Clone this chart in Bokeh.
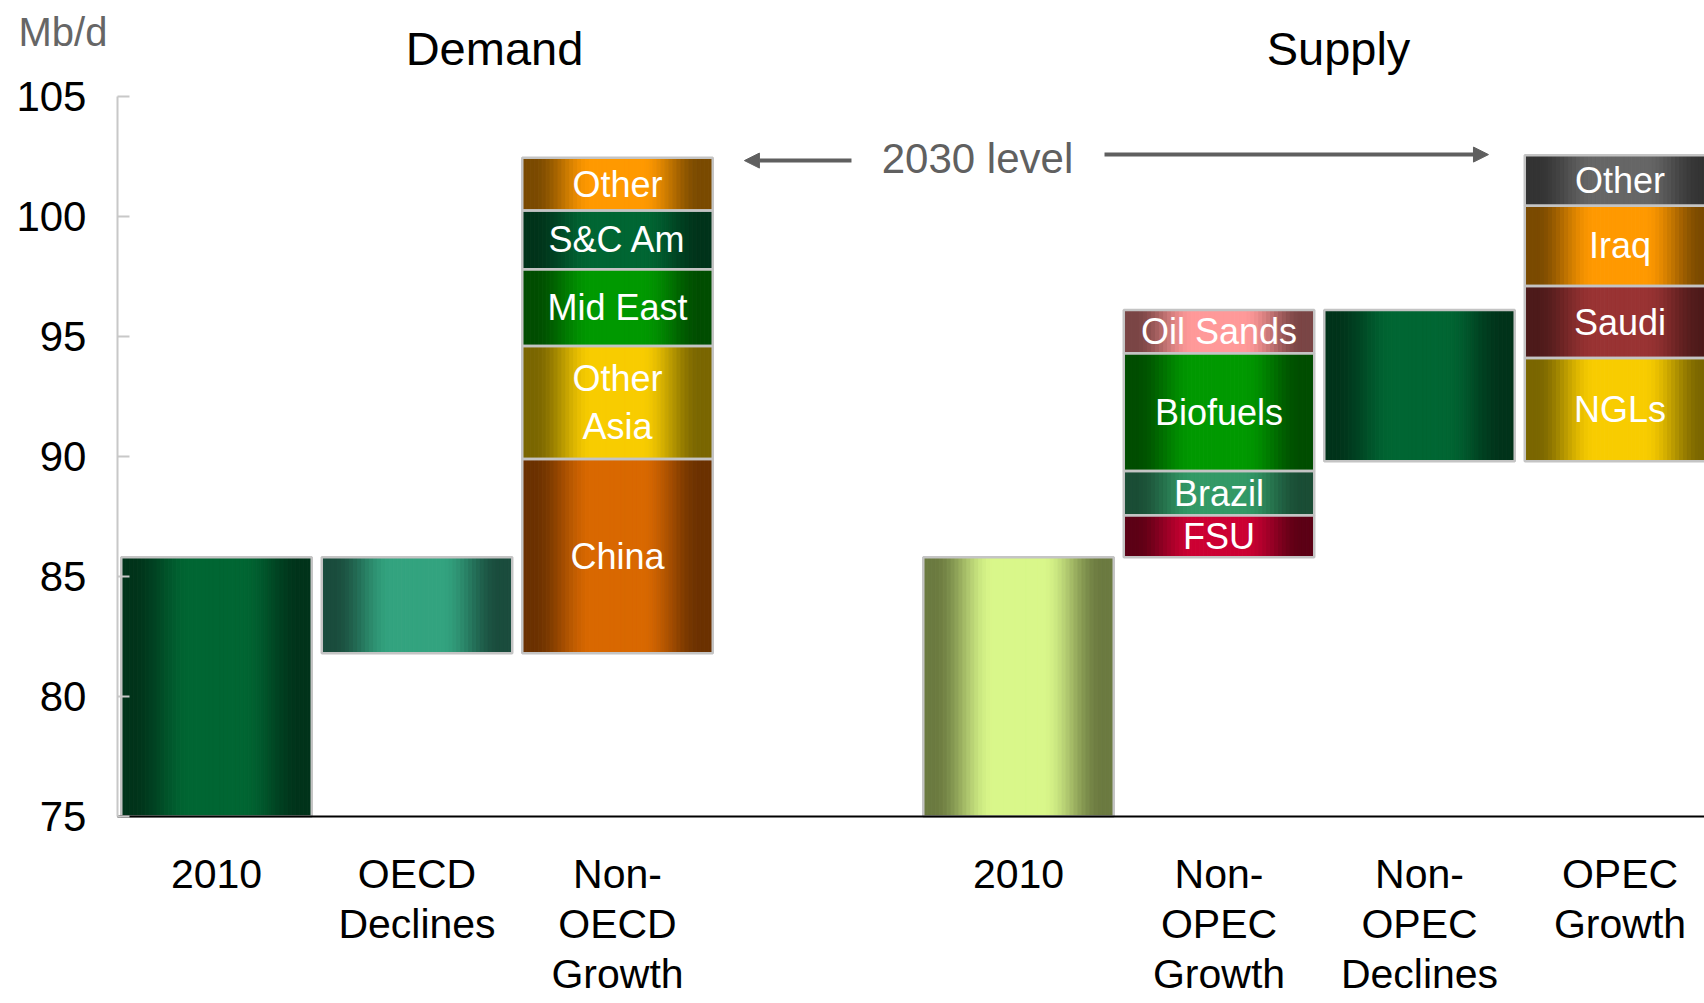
import numpy as np
from bokeh.plotting import figure
from bokeh.models import ColumnDataSource, FixedTicker, Label, Arrow, NormalHead, Range1d
from bokeh.embed import file_html
from bokeh.resources import INLINE
from bokeh.core.properties import value

# ---------------- data ----------------
positions = [0, 1, 2, 4, 5, 6, 7]
category_labels = ["2010", "OECD\nDeclines", "Non-\nOECD\nGrowth",
                   "2010", "Non-\nOPEC\nGrowth", "Non-\nOPEC\nDeclines", "OPEC\nGrowth"]
y_ticks = [75, 80, 85, 90, 95, 100, 105]

demand_2010 = 85.8
oecd_declines = -4.0
non_oecd_labels = ["China", "Other\nAsia", "Mid East", "S&C Am", "Other"]
non_oecd_values = [8.1, 4.7, 3.2, 2.45, 2.2]

supply_2010 = 85.8
non_opec_growth_labels = ["FSU", "Brazil", "Biofuels", "Oil Sands"]
non_opec_growth_values = [1.75, 1.85, 4.9, 1.8]
non_opec_declines = -6.3
opec_growth_labels = ["NGLs", "Saudi", "Iraq", "Other"]
opec_growth_values = [4.3, 3.0, 3.35, 2.1]

# ---------------- styles (edge colour, centre colour) ----------------
c_demand_2010 = ("#00331a", "#006633")
c_oecd = ("#1a4c3d", "#33a37f")
c_non_oecd = [("#6b3100", "#d96800"), ("#7a6600", "#f8cc00"), ("#004d00", "#009900"),
              ("#00331a", "#006633"), ("#7a4a00", "#ff9900")]
c_supply_2010 = ("#6b7a40", "#d9f78a")
c_non_opec_growth = [("#5c0015", "#cc0033"), ("#1a4d35", "#339966"),
                     ("#004d00", "#009900"), ("#7a4545", "#ff9999")]
c_non_opec_decl = ("#00331a", "#006633")
c_opec = [("#7a6600", "#f8cc00"), ("#4d1a1a", "#993333"), ("#7a4a00", "#ff9900"),
          ("#333333", "#666666")]

FONT = "Liberation Sans"
BAR_W = 0.95
AXIS_X = -0.494          # where the value axis sits (in category units)
AXIS_MIN = y_ticks[0]
AXIS_MAX = y_ticks[-1]

# ---------------- build waterfall segments ----------------
segments = []  # (x, bottom, top, label, colours)
segments.append((positions[0], 0, demand_2010, "", c_demand_2010))
segments.append((positions[1], demand_2010 + oecd_declines, demand_2010, "", c_oecd))
base = demand_2010 + oecd_declines
for lab, v, c in zip(non_oecd_labels, non_oecd_values, c_non_oecd):
    segments.append((positions[2], base, base + v, lab, c))
    base += v
segments.append((positions[3], 0, supply_2010, "", c_supply_2010))
base = supply_2010
for lab, v, c in zip(non_opec_growth_labels, non_opec_growth_values, c_non_opec_growth):
    segments.append((positions[4], base, base + v, lab, c))
    base += v
segments.append((positions[5], base + non_opec_declines, base, "", c_non_opec_decl))
base = base + non_opec_declines
for lab, v, c in zip(opec_growth_labels, opec_growth_values, c_opec):
    segments.append((positions[6], base, base + v, lab, c))
    base += v


def hex2rgb(h):
    h = h.lstrip("#")
    return np.array([int(h[i:i + 2], 16) for i in (0, 2, 4)], dtype=float)


def rgb2hex(c):
    c = np.clip(np.round(c), 0, 255).astype(int)
    return "#%02x%02x%02x" % tuple(c)


N = 48
strip = dict(left=[], right=[], bottom=[], top=[], color=[])
outline = dict(left=[], right=[], bottom=[], top=[])
labels = dict(x=[], y=[], text=[])
for x, b, t, lab, (ce, cc) in segments:
    b = max(b, AXIS_MIN)
    l0, r0 = x - BAR_W / 2, x + BAR_W / 2
    e, m = hex2rgb(ce), hex2rgb(cc)
    w = (r0 - l0) / N
    for i in range(N):
        tt = (i + 0.5) / N
        u = 1 - abs(2 * tt - 1)
        s = np.clip((u - 0.12) / 0.62, 0, 1)
        s = s * s * (3 - 2 * s)
        strip["left"].append(l0 + i * w)
        strip["right"].append(l0 + (i + 1) * w)
        strip["bottom"].append(b)
        strip["top"].append(t)
        strip["color"].append(rgb2hex(e + (m - e) * s))
    outline["left"].append(l0)
    outline["right"].append(r0)
    outline["bottom"].append(b)
    outline["top"].append(t)
    if lab:
        labels["x"].append(x)
        labels["y"].append((b + t) / 2)
        labels["text"].append(lab)

# ---------------- figure ----------------
W, H = 1704, 1003
PX_PER_X = 200.5
PX_PER_Y = 24.0
x0 = -216 / PX_PER_X
y1 = AXIS_MIN + 816 / PX_PER_Y
p = figure(width=W, height=H,
           x_range=Range1d(x0, x0 + W / PX_PER_X),
           y_range=Range1d(y1 - H / PX_PER_Y, y1),
           output_backend="svg", toolbar_location=None,
           min_border_left=0, min_border_right=0,
           min_border_top=0, min_border_bottom=0)
p.outline_line_color = None
p.xgrid.visible = False
p.ygrid.visible = False
p.background_fill_color = "white"
p.border_fill_color = "white"

p.quad(left="left", right="right", bottom="bottom", top="top",
       fill_color="color", line_color="color", line_width=1,
       source=ColumnDataSource(strip))
p.quad(left="left", right="right", bottom="bottom", top="top",
       fill_color=None, line_color="#c4c4c4", line_width=2.5,
       source=ColumnDataSource(outline))
p.text(x="x", y="y", text="text", source=ColumnDataSource(labels),
       text_font=value(FONT), text_font_size="36px", text_color="white",
       text_align="center", text_baseline="middle", text_line_height=1.15)

# axes
p.yaxis.fixed_location = AXIS_X
p.yaxis.bounds = (AXIS_MIN, AXIS_MAX)
p.yaxis.ticker = FixedTicker(ticks=y_ticks)
p.yaxis.axis_line_color = "#c8c8c8"
p.yaxis.axis_line_width = 2
p.yaxis.major_tick_line_color = "#c8c8c8"
p.yaxis.major_tick_line_width = 2
p.yaxis.major_tick_in = 12
p.yaxis.major_tick_out = 0
p.yaxis.minor_tick_line_color = None
p.yaxis.major_label_standoff = 31
p.yaxis.major_label_text_font = FONT
p.yaxis.major_label_text_font_size = "42px"
p.yaxis.major_label_text_color = "black"

p.xaxis.fixed_location = AXIS_MIN
p.xaxis.bounds = (AXIS_X, x0 + W / PX_PER_X)
p.xaxis.ticker = FixedTicker(ticks=positions)
p.xaxis.major_label_overrides = {pos: lab for pos, lab in zip(positions, category_labels)}
p.xaxis.axis_line_color = "black"
p.xaxis.axis_line_width = 2
p.xaxis.major_tick_line_color = None
p.xaxis.minor_tick_line_color = None
p.xaxis.major_label_standoff = 28
p.xaxis.major_label_text_font = FONT
p.xaxis.major_label_text_font_size = "41px"
p.xaxis.major_label_text_color = "black"
p.xaxis.major_label_text_line_height = 1.09

# titles and annotations
p.add_layout(Label(x=-0.9875, y=107.68, text="Mb/d", text_font=FONT,
                   text_font_size="40px", text_color="#666666",
                   text_align="left", text_baseline="alphabetic"))
p.add_layout(Label(x=1.3865, y=107.01, text="Demand", text_font=FONT,
                   text_font_size="47px", text_color="black",
                   text_align="center", text_baseline="alphabetic"))
p.add_layout(Label(x=5.596, y=107.01, text="Supply", text_font=FONT,
                   text_font_size="47px", text_color="black",
                   text_align="center", text_baseline="alphabetic"))
p.add_layout(Label(x=3.7955, y=102.42, text="2030 level", text_font=FONT,
                   text_font_size="42px", text_color="#606060",
                   text_align="center", text_baseline="alphabetic"))
p.add_layout(Arrow(x_start=3.167, y_start=102.33, x_end=2.633, y_end=102.33,
                   line_color="#5f5f5f", line_width=4,
                   end=NormalHead(size=15, fill_color="#5f5f5f", line_color="#5f5f5f")))
p.add_layout(Arrow(x_start=4.429, y_start=102.58, x_end=6.344, y_end=102.58,
                   line_color="#5f5f5f", line_width=4,
                   end=NormalHead(size=15, fill_color="#5f5f5f", line_color="#5f5f5f")))

open("out.html", "w").write(file_html(p, INLINE))
